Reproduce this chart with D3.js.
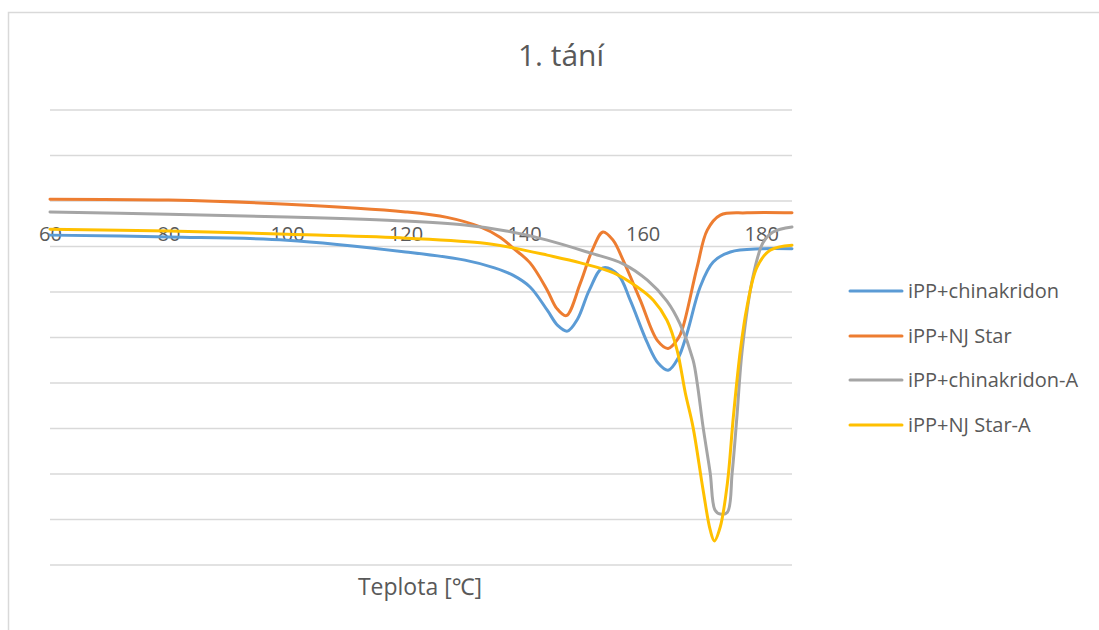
<!DOCTYPE html>
<html><head><meta charset="utf-8">
<script src="https://cdn.jsdelivr.net/npm/d3@7"></script>
<style>body{margin:0;background:#fff}svg{display:block}text{font-family:"Open Sans","Noto Sans",sans-serif;fill:#595959}</style>
</head><body>
<script>
const title = "1. tání";
const xTitle = "Teplota [\u2103]";
const seriesNames = ["iPP+chinakridon","iPP+NJ Star","iPP+chinakridon-A","iPP+NJ Star-A"];
const colors = ["#5B9BD5","#ED7D31","#A5A5A5","#FFC000"];
const xTicks = [60,80,100,120,140,160,180];
const yGrid = [2,1,0,-1,-2,-3,-4,-5,-6,-7,-8];

const chinakridon = [[60,-0.75],[80,-0.79],[100,-0.86],[120,-1.12],[130,-1.30],[135,-1.47],[138.1,-1.63],[141,-1.89],[143.9,-2.40],[145.7,-2.74],[147.3,-2.86],[149,-2.60],[151,-1.96],[153.3,-1.47],[155.9,-1.63],[157.9,-2.18],[160.8,-3.12],[162.6,-3.56],[164.3,-3.72],[166,-3.45],[167.5,-2.90],[169.7,-1.89],[171.9,-1.34],[174.8,-1.12],[180,-1.05],[185.2,-1.05]];
const njStar = [[60,0.04],[80,0.02],[100,-0.07],[120,-0.24],[127,-0.36],[132.6,-0.57],[136,-0.80],[138.1,-1.03],[141,-1.36],[143.9,-1.96],[145.5,-2.36],[147.1,-2.52],[149.5,-1.80],[151.5,-1.08],[153.3,-0.68],[155,-0.86],[156.7,-1.30],[159.6,-2.18],[162.5,-3.07],[164.3,-3.24],[166,-3.02],[166.8,-2.77],[169.2,-1.45],[170.9,-0.64],[173.1,-0.31],[177.6,-0.26],[185.2,-0.26]];
const chinakridonA = [[60,-0.24],[80,-0.29],[100,-0.35],[120,-0.44],[130,-0.53],[137,-0.66],[143.9,-0.86],[151.1,-1.14],[156.7,-1.38],[160.8,-1.74],[164.1,-2.20],[166.3,-2.70],[168.5,-3.49],[169.2,-4.00],[170.2,-4.97],[171.4,-5.98],[172.2,-6.79],[173.1,-6.88],[174.3,-6.84],[175.1,-5.98],[175.9,-4.75],[176.8,-3.27],[178.6,-1.67],[180.3,-0.92],[182,-0.68],[185.2,-0.57]];
const njStarA = [[60,-0.62],[80,-0.66],[100,-0.73],[119.1,-0.81],[132.6,-0.92],[138.1,-1.03],[143.9,-1.19],[149.5,-1.36],[155.1,-1.58],[159.1,-1.89],[161.8,-2.18],[164.1,-2.62],[165.8,-3.27],[167.2,-4.22],[168.5,-4.97],[170.2,-6.35],[171.4,-7.23],[172.1,-7.47],[173.1,-7.16],[174.3,-6.20],[175.3,-4.75],[176.5,-3.27],[177.6,-2.33],[179.3,-1.45],[181.5,-1.08],[185.2,-0.97]];
const allSeries = [chinakridon, njStar, chinakridonA, njStarA];

const W = 1099, H = 630;
const svg = d3.select("body").append("svg").attr("width", W).attr("height", H);
svg.append("rect").attr("x", 8.5).attr("y", 12.5).attr("width", W + 10).attr("height", H + 10)
  .attr("fill", "#fff").attr("stroke", "#d9d9d9").attr("stroke-width", 1.5);

const x = d3.scaleLinear().domain([60, 185.2]).range([50, 792]);
const y = d3.scaleLinear().domain([-8, 2]).range([565, 110]);

svg.append("g").selectAll("line").data(yGrid).join("line")
  .attr("x1", x.range()[0]).attr("x2", x.range()[1])
  .attr("y1", d => y(d)).attr("y2", d => y(d))
  .attr("stroke", "#d9d9d9").attr("stroke-width", 1.5);

const xAxis = svg.append("g").attr("transform", `translate(0,${y(0)})`)
  .call(d3.axisBottom(x).tickValues(xTicks).tickSize(0).tickPadding(26).tickFormat(d3.format("d")));
xAxis.select(".domain").remove();
xAxis.selectAll("text").style("font-size", "20px").attr("fill", "#595959")
  .style("font-family", '"Open Sans","Noto Sans",sans-serif');

const line = d3.line().x(d => x(d[0])).y(d => y(d[1])).curve(d3.curveCatmullRom.alpha(0.5));
svg.append("g").selectAll("path").data(allSeries).join("path")
  .attr("d", line).attr("fill", "none")
  .attr("stroke", (d, i) => colors[i]).attr("stroke-width", 3).attr("stroke-linejoin", "round").attr("stroke-linecap", "round");

svg.append("text").attr("x", 561).attr("y", 66).attr("text-anchor", "middle").style("font-size", "30px").text(title);
svg.append("text").attr("x", 420).attr("y", 595).attr("text-anchor", "middle").style("font-size", "23px").text(xTitle);

const legendY = [291, 336, 380, 425];
const lg = svg.append("g");
seriesNames.forEach((n, i) => {
  lg.append("line").attr("x1", 850).attr("x2", 902).attr("y1", legendY[i]).attr("y2", legendY[i])
    .attr("stroke", colors[i]).attr("stroke-width", 3).attr("stroke-linecap", "round");
  lg.append("text").attr("x", 908).attr("y", legendY[i] + 7).style("font-size", "20px").text(n);
});
</script>
</body></html>
